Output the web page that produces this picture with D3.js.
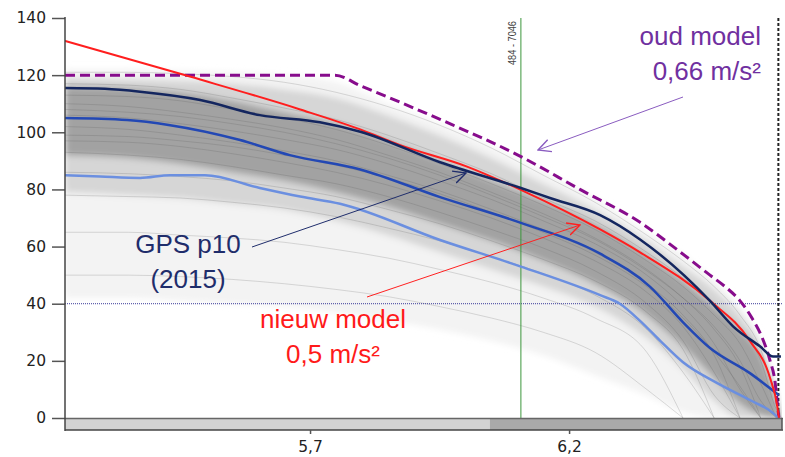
<!DOCTYPE html>
<html>
<head>
<meta charset="utf-8">
<script src="https://cdn.jsdelivr.net/npm/d3@7"></script>
<style>
  body { margin: 0; background: #fff; }
  svg { display: block; }
  .tick text { font-family: "DejaVu Sans", Verdana, sans-serif; font-size: 15.5px; fill: #222; }
  .tick line { stroke: #555; stroke-width: 1.5; }
  .note { font-family: "Liberation Sans", Arial, sans-serif; font-size: 26px; }
</style>
</head>
<body>
<svg id="chart" width="785" height="457"></svg>
<script>
// ---- data (x = axis units, y = speed) ----
const yTicks = [0, 20, 40, 60, 80, 100, 120, 140];
const xTicks = [5.7, 6.2];

// old model, dashed purple
const oudModel = [[5.227, 120], [5.748, 120], [5.797, 116.3], [5.874, 110.5], [5.951, 104.5], [6.107, 91.5],
  [6.221, 80], [6.337, 68.5], [6.408, 59], [6.472, 50], [6.501, 46], [6.530, 41], [6.553, 35], [6.573, 28],
  [6.588, 20], [6.598, 12], [6.602, 5], [6.605, 0]];
// new model, red
const nieuwModel = [[5.227, 132], [5.468, 119.5], [5.681, 108], [5.797, 101], [5.874, 95.5], [6.003, 88],
  [6.111, 79.5], [6.260, 66], [6.337, 58], [6.472, 41], [6.549, 27], [6.588, 14], [6.602, 4], [6.605, 0]];
// GPS p10 (2015), dark navy
const gpsP10 = [[5.227, 115.5], [5.304, 115.2], [5.372, 114.2], [5.488, 111.3], [5.603, 106], [5.719, 103.5],
  [5.797, 100.2], [5.951, 89.5], [6.107, 80.5], [6.163, 77], [6.260, 71], [6.337, 62.5], [6.472, 41],
  [6.517, 32], [6.569, 25], [6.594, 21.5], [6.609, 21.5]];
// blue percentile
const blueLine = [[5.227, 105], [5.347, 104.3], [5.430, 102.5], [5.565, 97.3], [5.661, 92], [5.797, 87],
  [5.951, 77.3], [6.107, 68.3], [6.260, 57.5], [6.356, 46], [6.420, 33.5], [6.472, 24.5], [6.549, 15.7],
  [6.605, 8]];
// light blue percentile
const lightBlueLine = [[5.227, 85], [5.295, 84.5], [5.372, 84], [5.430, 85], [5.497, 85], [5.603, 80.5],
  [5.681, 77.5], [5.758, 75], [5.951, 62.3], [6.107, 53], [6.260, 43], [6.298, 40], [6.337, 34],
  [6.376, 27], [6.420, 19.5], [6.486, 12.2], [6.549, 6.3], [6.594, 1.7], [6.604, 0]];

// grey cloud of individual runs: envelopes and a sample of traces
const bandX = [5.227, 5.35, 5.45, 5.55, 5.65, 5.75, 5.85, 5.95, 6.05, 6.15, 6.25, 6.35, 6.42, 6.48, 6.53, 6.57, 6.60, 6.61];
const outerHi = [122, 122, 121.5, 121, 120, 117.5, 110, 103, 95, 86, 77, 65, 57, 48, 39, 27, 9, 0];
const outerLo = [42, 42, 41, 40, 39, 37, 34, 31, 27, 22, 15, 8, 2, 0, 0, 0, 0, 0];
const midHi = [119, 118.5, 118, 117, 115, 112, 106, 99, 91, 82, 73, 62, 53, 45, 36, 25, 8, 0];
const midLo = [79, 78, 77, 75, 73, 69, 64, 58, 52, 46, 39, 28, 17, 6, 0, 0, 0, 0];
const coreHi = [116, 115.5, 114, 111, 107, 103, 97, 90, 83, 76, 68, 57, 48, 39, 31, 22, 7, 0];
const coreLo = [92, 91, 89, 86, 83, 79, 74, 68, 62, 55, 47, 36, 25, 14, 5, 1, 0, 0];
const traces = [
  [121, 121, 120.5, 119.5, 117.5, 114, 109, 102.5, 94.5, 85, 75.5, 64, 55, 46, 36, 24, 6, 0],
  [117, 116.5, 115, 112, 108.5, 104.5, 99, 92.5, 85.5, 77, 69, 58, 49, 40, 31, 20, 3, 0],
  [113, 112.5, 111, 108, 105, 101, 95.5, 89, 82, 74.5, 66, 55, 46, 36, 26, 12, 0, null],
  [110, 109, 107, 104.5, 101.5, 97.5, 92, 86, 79, 71.5, 63, 52, 42, 31, 18, 0, null, null],
  [108, 107, 105.5, 103, 100, 96, 91, 85, 78, 70.5, 62.5, 51.5, 42, 32, 20, 6, 0, null],
  [106, 105, 103, 100.5, 97.5, 94, 89, 83, 76.5, 69, 61, 50, 39, 26, 10, 0, null, null],
  [102, 101, 99, 96.5, 93.5, 90, 85, 79.5, 73, 66, 58, 47, 36, 22, 0, null, null, null],
  [99, 98.5, 97, 95, 92, 88.5, 84, 78.5, 72, 65, 57, 46, 35, 23, 11, 0, null, null],
  [97, 96.5, 95, 92.5, 89.5, 86, 81.5, 76, 70, 63, 55, 44, 32, 16, 0, null, null, null],
  [93, 92, 90.5, 88, 85, 82, 77.5, 72, 66, 59.5, 51.5, 40, 27, 8, 0, null, null, null],
  [86, 85.5, 84.5, 83, 80.5, 77.5, 73, 68, 62, 55.5, 48, 37, 24, 0, null, null, null, null],
  [78, 77.5, 77, 75.5, 73.5, 70.5, 66.5, 62, 56.5, 50.5, 43, 31, 16, 0, null, null, null, null],
  [65, 65, 64, 63, 61.5, 59, 56, 52, 47.5, 42, 35, 23, 0, null, null, null, null, null],
  [50, 50, 49.5, 48.5, 47, 45, 42.5, 39, 35, 30, 23, 10, 0, null, null, null, null, null]
];

const markerX = 6.107;      // green marker line
const endX = 6.604;         // black dashed end line
const splitX = 6.047;       // split of the bottom bar
const refSpeed = 40;        // dotted reference line

// ---- scales ----
const svg = d3.select("#chart");
const x = d3.scaleLinear().domain([5.227, 6.611]).range([65, 782]);
const y = d3.scaleLinear().domain([0, 140]).range([418, 18]);
const nl = d3.formatLocale({decimal: ",", thousands: ".", grouping: [3], currency: ["€", ""]});

const defs = svg.append("defs");
defs.append("clipPath").attr("id", "plot").append("rect")
  .attr("x", 65).attr("y", 18).attr("width", 717).attr("height", 400);
defs.append("filter").attr("id", "soft").attr("x", "-5%").attr("y", "-5%").attr("width", "110%").attr("height", "110%")
  .append("feGaussianBlur").attr("stdDeviation", 3);
[["arrNavy", "#1f2d6b"], ["arrRed", "#ff2020"], ["arrPurple", "#8a5cc0"]].forEach(([id, c]) => {
  defs.append("marker").attr("id", id).attr("viewBox", "0 0 10 10")
    .attr("refX", 9).attr("refY", 5).attr("markerWidth", 14).attr("markerHeight", 14)
    .attr("markerUnits", "userSpaceOnUse").attr("orient", "auto")
    .append("path").attr("d", "M0,0.5 L9,5 L0,9.5").attr("fill", "none").attr("stroke", c).attr("stroke-width", 1);
});

// ---- grey cloud ----
const cloud = svg.append("g").attr("clip-path", "url(#plot)");
const blurG = cloud.append("g").attr("filter", "url(#soft)");
const band = (hi, lo) => d3.area()
  .x((d, i) => x(bandX[i])).y0((d, i) => y(lo[i])).y1((d, i) => y(hi[i]))
  .curve(d3.curveMonotoneX)(bandX);
blurG.append("path").attr("d", band(outerHi, outerLo)).attr("fill", "#f3f3f3");
blurG.append("path").attr("d", band(midHi, midLo)).attr("fill", "#d6d6d6");
blurG.append("path").attr("d", band(coreHi, coreLo)).attr("fill", "#a2a2a2");

const traceLine = d3.line()
  .defined(d => d[1] !== null)
  .x(d => x(d[0])).y(d => y(d[1]))
  .curve(d3.curveMonotoneX);
cloud.selectAll(".trace").data(traces).join("path")
  .attr("class", "trace")
  .attr("d", t => traceLine(t.map((v, i) => [bandX[i], v])))
  .attr("fill", "none").attr("stroke", "#555").attr("stroke-opacity", 0.2).attr("stroke-width", 1);

// reference lines
svg.append("line").attr("x1", 65).attr("x2", 782).attr("y1", y(refSpeed)).attr("y2", y(refSpeed))
  .attr("stroke", "#3a3a9a").attr("stroke-width", 1).attr("stroke-dasharray", "1,1");
svg.append("line").attr("x1", x(markerX)).attr("x2", x(markerX)).attr("y1", 18).attr("y2", 419)
  .attr("stroke", "#3c963c").attr("stroke-width", 1);
svg.append("text").attr("transform", `translate(${x(markerX) - 5},43) rotate(-90)`)
  .attr("text-anchor", "middle").attr("font-family", "Liberation Sans, Arial, sans-serif")
  .attr("font-size", 10).attr("fill", "#444").attr("textLength", 44).attr("lengthAdjust", "spacingAndGlyphs")
  .text("484 - 7046");
svg.append("line").attr("x1", x(endX)).attr("x2", x(endX)).attr("y1", 18).attr("y2", 419)
  .attr("stroke", "#222").attr("stroke-width", 2).attr("stroke-dasharray", "3,2");

// ---- curves ----
const line = d3.line().x(d => x(d[0])).y(d => y(d[1])).curve(d3.curveMonotoneX);
const curves = [
  {data: oudModel, color: "#870c8c", width: 3, dash: "10,5"},
  {data: lightBlueLine, color: "#6b8fe0", width: 2.5},
  {data: blueLine, color: "#2348b4", width: 2.5},
  {data: nieuwModel, color: "#ff1e1e", width: 2},
  {data: gpsP10, color: "#14265f", width: 2.5}
];
svg.append("g").attr("clip-path", "url(#plot)").selectAll("path").data(curves).join("path")
  .attr("d", c => line(c.data))
  .attr("fill", "none").attr("stroke", c => c.color).attr("stroke-width", c => c.width)
  .attr("stroke-dasharray", c => c.dash || null);

// ---- bottom bar + axes ----
svg.append("rect").attr("x", 65).attr("y", 419).attr("width", x(splitX) - 65).attr("height", 11).attr("fill", "#d3d3d3");
svg.append("rect").attr("x", x(splitX)).attr("y", 419).attr("width", 782 - x(splitX)).attr("height", 11).attr("fill", "#a9a9a9");
svg.append("line").attr("x1", 65).attr("x2", 783).attr("y1", 418.5).attr("y2", 418.5).attr("stroke", "#666").attr("stroke-width", 1.5);
svg.append("line").attr("x1", 65).attr("x2", 783).attr("y1", 430).attr("y2", 430).attr("stroke", "#444").attr("stroke-width", 1.5);
svg.append("line").attr("x1", 782).attr("x2", 782).attr("y1", 418).attr("y2", 430).attr("stroke", "#555").attr("stroke-width", 1.5);

const yAxis = svg.append("g").attr("transform", "translate(65,0)")
  .call(d3.axisLeft(y).tickValues(yTicks).tickSize(13).tickPadding(6).tickSizeOuter(0));
yAxis.select(".domain").remove();
svg.append("line").attr("x1", 65).attr("x2", 65).attr("y1", 17).attr("y2", 431).attr("stroke", "#444").attr("stroke-width", 1.5);

const xAxis = svg.append("g").attr("transform", "translate(0,430)")
  .call(d3.axisBottom(x).tickValues(xTicks).tickFormat(nl.format(".1f")).tickSize(4).tickPadding(7));
xAxis.select(".domain").remove();

// ---- annotations ----
const note = (lines, ax, ay, anchor, color) => {
  const t = svg.append("text").attr("class", "note").attr("fill", color).attr("text-anchor", anchor);
  lines.forEach((s, i) => t.append("tspan").attr("x", ax).attr("y", ay + i * 35).text(s));
};
note(["oud model", "0,66 m/s²"], 761, 45, "end", "#7030a0");
note(["GPS p10", "(2015)"], 188, 253, "middle", "#1f2d6b");
note(["nieuw model", "0,5 m/s²"], 333, 328, "middle", "#ff1a1a");

const arrow = (x1, y1, x2, y2, color, id) => svg.append("line")
  .attr("x1", x1).attr("y1", y1).attr("x2", x2).attr("y2", y2)
  .attr("stroke", color).attr("stroke-width", 1).attr("marker-end", `url(#${id})`);
arrow(683, 97, 538, 150, "#8a5cc0", "arrPurple");
arrow(252, 247, 466, 173, "#1f2d6b", "arrNavy");
arrow(367, 297, 580, 225, "#ff2020", "arrRed");
</script>
</body>
</html>
